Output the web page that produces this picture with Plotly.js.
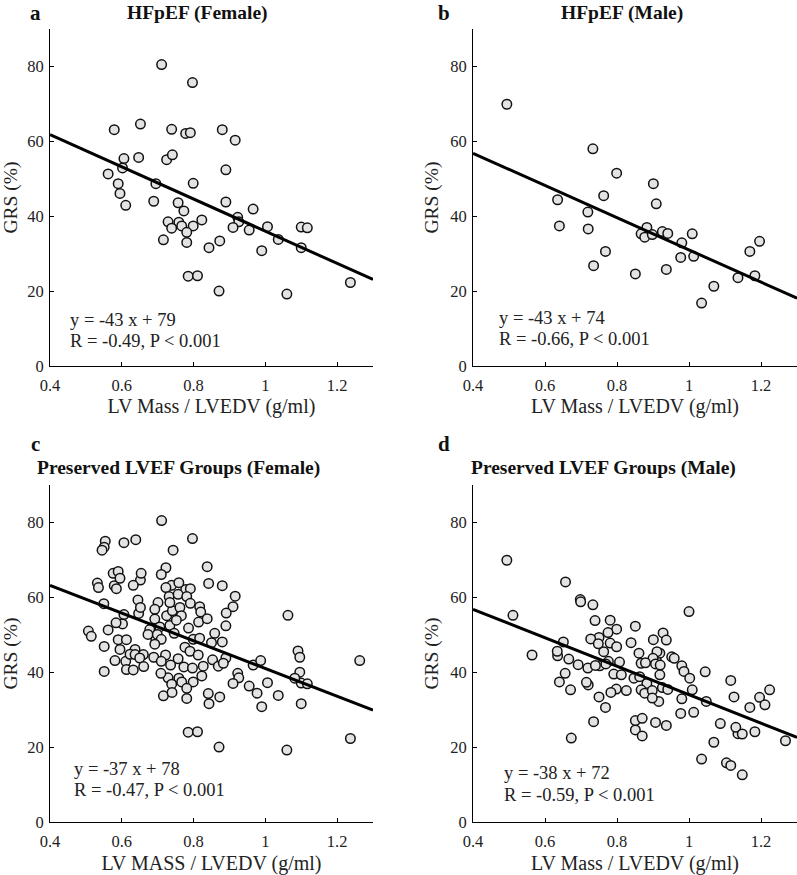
<!DOCTYPE html>
<html>
<head>
<meta charset="utf-8">
<script src="https://cdn.plot.ly/plotly-3.0.1.min.js"></script>
<style>html,body{margin:0;padding:0;background:#fff;}#chart{width:797px;height:875px;}</style>
</head>
<body>
<div id="chart"></div>
<script>
// ---- Data ----
// Panel a: HFpEF (Female)
const hfpefFemaleX = [0.711,0.797,0.579,0.652,0.739,0.778,0.791,0.880,0.916,0.606,0.647,0.725,0.741,0.562,0.602,0.890,0.590,0.695,0.799,0.595,0.611,0.689,0.757,0.890,0.773,0.966,0.729,0.759,0.739,0.767,0.799,0.823,0.781,0.923,0.926,0.910,0.955,1.006,1.100,1.117,0.716,0.781,0.843,0.873,1.036,0.990,1.100,0.785,0.811,0.871,1.060,1.237];
const hfpefFemaleY = [80.5,75.7,63.1,64.6,63.2,62.1,62.3,63.1,60.3,55.4,55.7,55.1,56.4,51.3,52.9,52.4,48.7,48.7,48.8,46.1,42.9,44.0,43.6,43.8,41.4,41.9,38.5,38.4,36.8,37.4,37.4,39.0,35.7,39.7,38.5,37.0,36.3,37.2,37.1,36.9,33.7,33.0,31.6,33.4,33.8,30.8,31.6,24.0,24.1,20.0,19.2,22.3];
// Panel b: HFpEF (Male)
const hfpefMaleX = [0.494,0.733,0.799,0.901,0.763,0.635,0.909,0.719,0.640,0.720,0.883,0.867,0.877,0.898,0.926,0.941,0.980,1.009,0.768,0.977,1.013,0.735,0.851,0.937,1.169,1.196,1.183,1.136,1.069,1.035];
const hfpefMaleY = [69.9,58.0,51.5,48.7,45.5,44.4,43.3,41.1,37.4,36.6,37.0,35.3,34.4,35.1,35.9,35.4,32.9,35.3,30.6,29.0,29.3,26.8,24.6,25.8,30.6,33.3,24.1,23.6,21.3,16.8];
// Additional preserved-LVEF (non-HFpEF) subjects, female
const otherFemaleX = [0.639,0.606,0.554,0.551,0.545,0.743,0.723,0.838,0.710,0.576,0.590,0.654,0.595,0.532,0.535,0.585,0.632,0.759,0.842,0.723,0.732,0.757,0.781,0.791,0.645,0.652,0.550,0.701,0.692,0.734,0.762,0.817,0.910,0.891,0.820,0.766,0.814,0.838,0.584,0.692,0.734,0.706,0.752,0.786,0.507,0.515,0.678,0.673,0.746,0.613,0.817,0.859,0.699,0.710,0.850,0.880,0.776,0.790,0.813,0.551,0.692,0.637,0.623,0.637,0.660,0.650,0.722,0.853,0.827,0.581,0.710,0.736,0.613,0.632,0.661,0.797,0.869,0.883,0.551,0.987,1.091,1.096,1.063,1.263,1.096,1.082,0.709,0.740,0.977,0.841];
const otherFemaleY = [75.4,74.6,75.0,73.4,72.6,72.6,67.9,68.2,66.1,66.4,66.9,66.4,65.1,63.8,62.6,62.3,63.2,63.9,63.7,62.6,60.2,60.8,60.2,58.4,59.3,57.3,58.3,58.6,56.8,58.6,57.3,57.5,57.5,55.8,56.1,55.1,53.4,54.3,53.2,54.2,52.5,52.1,53.9,51.8,51.0,49.6,51.4,50.1,50.4,48.7,49.1,50.4,50.1,48.8,47.9,48.1,46.7,45.6,44.6,46.9,47.5,46.1,44.8,44.7,44.7,43.8,44.6,43.3,41.6,43.1,42.9,41.9,40.7,40.6,41.5,41.1,41.6,42.4,40.2,43.1,45.7,44.0,55.2,43.1,40.0,38.4,39.7,34.6,34.4,34.3];
// Additional preserved-LVEF (non-HFpEF) subjects, male
const otherMaleX = [0.657,0.698,0.699,0.511,1.000,0.739,0.781,0.851,0.775,0.750,0.727,0.928,0.937,0.651,0.748,0.781,0.839,0.799,0.634,0.564,0.666,0.861,0.919,0.952,0.959,0.911,0.900,0.776,0.807,0.692,0.752,0.769,0.867,0.879,0.907,0.920,0.980,0.986,1.045,0.656,0.791,0.812,0.740,0.919,1.002,0.847,0.863,1.116,0.715,0.671,0.798,0.826,0.916,0.898,0.750,0.783,1.125,1.224,1.211,1.048,0.851,0.870,0.870,0.907,1.087,1.130,1.148,1.268,0.673,1.104,1.116,1.148];
const otherMaleY = [64.1,59.4,58.8,55.2,56.2,53.8,53.9,52.3,50.6,49.3,48.9,50.5,48.6,48.1,47.6,47.8,47.9,46.8,45.6,44.6,43.5,45.1,45.1,44.1,43.7,45.5,43.7,42.9,42.7,42.0,41.7,42.2,42.4,42.5,42.2,41.9,41.7,40.2,40.1,39.7,39.5,39.3,41.8,39.3,38.4,38.4,38.8,37.8,37.3,35.3,35.5,35.1,32.2,33.1,33.4,34.6,33.4,35.3,31.3,32.2,27.1,27.7,23.0,26.6,26.3,25.3,23.5,21.7,22.4,15.8,15.1,12.6];

// Regression fits (slope, intercept) per panel a,b,c,d
const fitSlopes = [-43, -43, -37, -38];
const fitIntercepts = [79, 74, 78, 72];
const fitR = ["-0.49", "-0.66", "-0.47", "-0.59"];
const panelLetters = ["a", "b", "c", "d"];
const panelTitles = ["HFpEF (Female)", "HFpEF (Male)", "Preserved LVEF Groups (Female)", "Preserved LVEF Groups (Male)"];
const xTitles = ["LV Mass / LVEDV (g/ml)", "LV Mass / LVEDV (g/ml)", "LV MASS / LVEDV (g/ml)", "LV Mass / LVEDV (g/ml)"];
const yTitle = "GRS (%)";
const xTickVals = [0.4, 0.6, 0.8, 1, 1.2];
const xTickText = ["0.4", "0.6", "0.8", "1", "1.2"];
const yTickVals = [0, 20, 40, 60, 80];
const xRange = [0.4, 1.3];
const yRange = [0, 90];

// ---- Build ----
const W = 797, H = 875;
const px = v => v / W;
const py = v => 1 - v / H;
const FONT = "Liberation Serif, Times New Roman, serif";

const panelsX = [hfpefFemaleX, hfpefMaleX, hfpefFemaleX.concat(otherFemaleX), hfpefMaleX.concat(otherMaleX)];
const panelsY = [hfpefFemaleY, hfpefMaleY, hfpefFemaleY.concat(otherFemaleY), hfpefMaleY.concat(otherMaleY)];

// pixel boxes [left, right, top, bottom]
const boxes = [[50, 373, 29, 366], [473, 797, 29, 366], [50, 373, 485, 822], [473, 797, 485, 822]];
const xTitleStandoff = [4, 4, 10, 10];

const traces = [];
const layout = {
  width: W, height: H,
  margin: {l: 0, r: 0, t: 0, b: 0},
  paper_bgcolor: "#ffffff", plot_bgcolor: "#ffffff",
  showlegend: false,
  font: {family: FONT, color: "#000"},
  annotations: []
};

for (let i = 0; i < 4; i++) {
  const s = i === 0 ? "" : String(i + 1);
  const xa = "x" + s, ya = "y" + s;
  traces.push({
    type: "scatter", mode: "markers", xaxis: xa, yaxis: ya,
    x: panelsX[i], y: panelsY[i],
    marker: {size: 9.5, color: "#e3e3e3", line: {color: "#111", width: 1.5}},
    hoverinfo: "x+y"
  });
  const lx = [xRange[0], xRange[1]];
  traces.push({
    type: "scatter", mode: "lines", xaxis: xa, yaxis: ya,
    x: lx, y: lx.map(v => fitSlopes[i] * v + fitIntercepts[i]),
    line: {color: "#000", width: 3}, hoverinfo: "skip"
  });
  const b = boxes[i];
  layout["xaxis" + s] = {
    domain: [px(b[0]), px(b[1])], anchor: ya, range: xRange,
    tickvals: xTickVals, ticktext: xTickText,
    showline: true, linecolor: "#000", linewidth: 1, mirror: false,
    ticks: "inside", ticklen: 4, tickcolor: "#000",
    ticklabelstandoff: 4,
    showgrid: false, zeroline: false,
    tickfont: {family: FONT, size: 16.5, color: "#222"},
    title: {text: xTitles[i], font: {family: FONT, size: 20, color: "#222"}, standoff: xTitleStandoff[i]}
  };
  layout["yaxis" + s] = {
    domain: [py(b[3]), py(b[2])], anchor: xa, range: yRange,
    tickvals: yTickVals,
    showline: true, linecolor: "#000", linewidth: 1, mirror: false,
    ticks: "inside", ticklen: 4, tickcolor: "#000",
    ticklabelstandoff: 2,
    showgrid: false, zeroline: false,
    tickfont: {family: FONT, size: 16.5, color: "#222"},
    title: {text: yTitle, font: {family: FONT, size: 19.5, color: "#222"}, standoff: 6}
  };
}

// titles and panel letters
const titleCenters = [[197, 13], [622, 13], [178, 468], [603, 468]];
const letterPos = [[35, 13], [444, 13], [35, 444], [444, 444]];
for (let i = 0; i < 4; i++) {
  layout.annotations.push({
    xref: "paper", yref: "paper", x: px(titleCenters[i][0]), y: py(titleCenters[i][1]),
    xanchor: "center", yanchor: "middle", showarrow: false,
    text: "<b>" + panelTitles[i] + "</b>", font: {family: FONT, size: 19.5, color: "#111"}
  });
  layout.annotations.push({
    xref: "paper", yref: "paper", x: px(letterPos[i][0]), y: py(letterPos[i][1]),
    xanchor: "center", yanchor: "middle", showarrow: false,
    text: "<b>" + panelLetters[i] + "</b>", font: {family: FONT, size: 21, color: "#111"}
  });
}
// regression text
const eqPos = [[68, 320, 341], [497, 318, 339], [72, 769, 790], [502, 773, 795]];
for (let i = 0; i < 4; i++) {
  const sign = fitIntercepts[i] >= 0 ? "+" : "-";
  layout.annotations.push({
    xref: "paper", yref: "paper", x: px(eqPos[i][0]), y: py(eqPos[i][1]),
    xanchor: "left", yanchor: "middle", showarrow: false,
    text: "y = " + fitSlopes[i] + " x " + sign + " " + Math.abs(fitIntercepts[i]),
    font: {family: FONT, size: 18.5, color: "#222"}
  });
  layout.annotations.push({
    xref: "paper", yref: "paper", x: px(eqPos[i][0]), y: py(eqPos[i][2]),
    xanchor: "left", yanchor: "middle", showarrow: false,
    text: "R = " + fitR[i] + ", P &lt; 0.001",
    font: {family: FONT, size: 18.5, color: "#222"}
  });
}

Plotly.newPlot("chart", traces, layout, {displayModeBar: false, staticPlot: true});
</script>
</body>
</html>
